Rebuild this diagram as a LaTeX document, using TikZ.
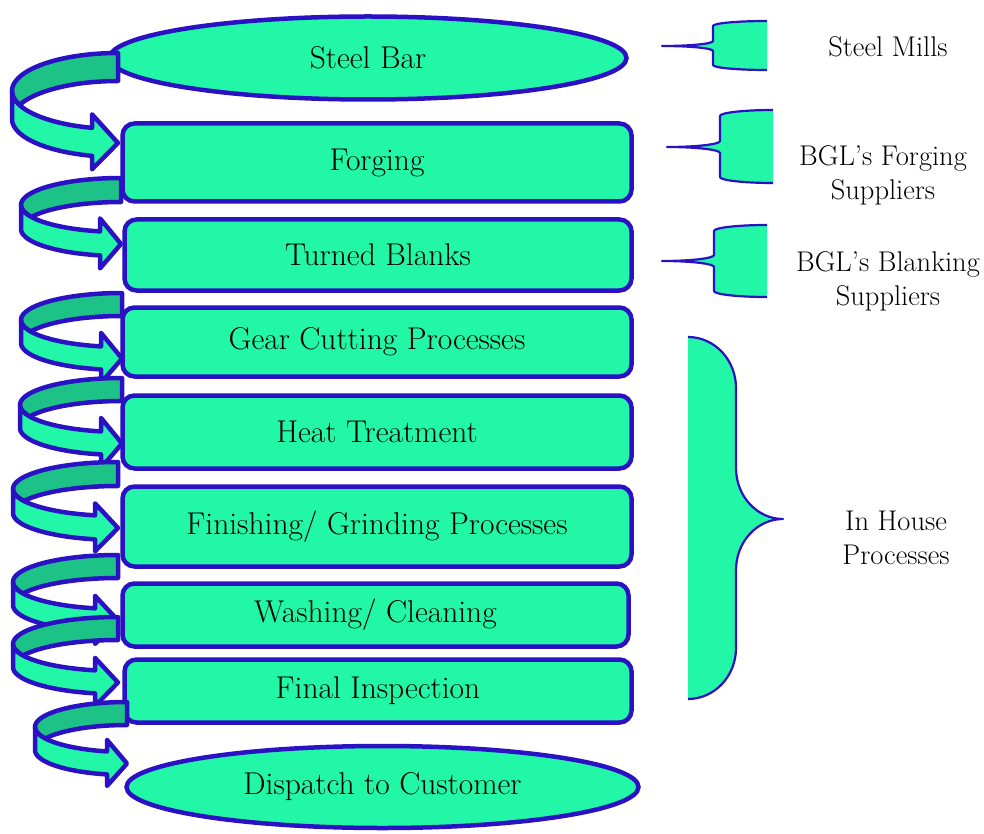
\documentclass[tikz,border=0pt]{standalone}
\usepackage{tikz}
\usetikzlibrary{shapes.geometric}
\definecolor{lg}{RGB}{33,247,166}
\definecolor{dg}{RGB}{29,194,135}
\definecolor{bb}{RGB}{43,17,196}
\newcommand\boxfont{\fontsize{31.5}{36}\selectfont}
\newcommand\sidefont{\fontsize{28.5}{34}\selectfont}
% curved ribbon arrow: right x, top y, x radius, y radius, thickness, head length, head width
\newcommand\ribarrow[7]{%
  \pgfmathsetmacro\raR{#1}%
  \pgfmathsetmacro\raT{#2}%
  \pgfmathsetmacro\raW{#3}%
  \pgfmathsetmacro\raH{#4}%
  \pgfmathsetmacro\raK{#5}%
  \pgfmathsetmacro\raA{#6}%
  \pgfmathsetmacro\raAW{#7}%
  \pgfmathsetmacro\raCU{\raT+\raH}%
  \pgfmathsetmacro\raCL{\raT+\raH+\raK}%
  \pgfmathsetmacro\raTB{acos(-\raA/\raW)}%
  \pgfmathsetmacro\raS{asin(\raK/(2*\raH))}%
  \pgfmathsetmacro\raTI{180-\raS}%
  \pgfmathsetmacro\raTJ{180+\raS}%
  \pgfmathsetmacro\raXB{\raR-\raA}%
  \pgfmathsetmacro\raYU{\raCU+\raH*sin(\raTB)}%
  \pgfmathsetmacro\raYL{\raYU+\raK}%
  \pgfmathsetmacro\raDH{(\raAW-\raK)/2}%
  \pgfmathsetmacro\raYT{\raT+2*\raH+\raK/2}%
  \pgfmathsetmacro\raYHa{\raYU-\raDH}%
  \pgfmathsetmacro\raYHb{\raYL+\raDH}%
  \filldraw[band, fill=dg] plot[domain=270:\raTI, samples=50] ({\raR+\raW*cos(\x)},{\raCU+\raH*sin(\x)})
     -- plot[domain=\raTJ:270, samples=40] ({\raR+\raW*cos(\x)},{\raCL+\raH*sin(\x)}) -- cycle;
  \filldraw[band, fill=lg] plot[domain=180:\raTB, samples=40] ({\raR+\raW*cos(\x)},{\raCU+\raH*sin(\x)})
     -- (\raXB,\raYHa) -- (\raR,\raYT) -- (\raXB,\raYHb) -- (\raXB,\raYL)
     -- plot[domain=\raTB:180, samples=40] ({\raR+\raW*cos(\x)},{\raCL+\raH*sin(\x)}) -- cycle;
}
% brace: open x, middle x, tip x, top y, mid y, bottom y, corner radius
\newcommand\bracket[7]{%
  \pgfmathsetmacro\bO{#1}%
  \pgfmathsetmacro\bM{#2}%
  \pgfmathsetmacro\bT{#3}%
  \pgfmathsetmacro\bYT{#4}%
  \pgfmathsetmacro\bYM{#5}%
  \pgfmathsetmacro\bYB{#6}%
  \pgfmathsetmacro\bR{#7}%
  \pgfmathsetmacro\bCa{\bO+0.5523*(\bM-\bO)}%
  \pgfmathsetmacro\bCb{\bT+0.5523*(\bM-\bT)}%
  \pgfmathsetmacro\bYa{\bYT+\bR}%
  \pgfmathsetmacro\bYaa{\bYT+\bR-0.5523*\bR}%
  \pgfmathsetmacro\bYb{\bYM-\bR}%
  \pgfmathsetmacro\bYbb{\bYM-\bR+0.5523*\bR}%
  \pgfmathsetmacro\bYc{\bYM+\bR}%
  \pgfmathsetmacro\bYcc{\bYM+\bR-0.5523*\bR}%
  \pgfmathsetmacro\bYd{\bYB-\bR}%
  \pgfmathsetmacro\bYdd{\bYB-\bR+0.5523*\bR}%
  \fill[lg] (\bO,\bYT) .. controls (\bCa,\bYT) and (\bM,\bYaa) .. (\bM,\bYa) -- (\bM,\bYb)
    .. controls (\bM,\bYbb) and (\bCb,\bYM) .. (\bT,\bYM)
    .. controls (\bCb,\bYM) and (\bM,\bYcc) .. (\bM,\bYc) -- (\bM,\bYd)
    .. controls (\bM,\bYdd) and (\bCa,\bYB) .. (\bO,\bYB) -- cycle;
  \draw[bline] (\bO,\bYT) .. controls (\bCa,\bYT) and (\bM,\bYaa) .. (\bM,\bYa) -- (\bM,\bYb)
    .. controls (\bM,\bYbb) and (\bCb,\bYM) .. (\bT,\bYM)
    .. controls (\bCb,\bYM) and (\bM,\bYcc) .. (\bM,\bYc) -- (\bM,\bYd)
    .. controls (\bM,\bYdd) and (\bCa,\bYB) .. (\bO,\bYB);
}
\begin{document}
\begin{tikzpicture}[x=1pt,y=-1pt,
  procbox/.style={draw=bb, fill=lg, line width=4.5pt, rounded corners=12pt, font=\boxfont, inner sep=0pt, text=black},
  ellbox/.style={ellipse, draw=bb, fill=lg, line width=4.5pt, font=\boxfont, inner sep=0pt, text=black},
  band/.style={draw=bb, line width=4.5pt, line join=round},
  bline/.style={draw=bb, line width=2.2pt, line join=round},
  sidetext/.style={font=\sidefont, align=center, text=black}]
\useasboundingbox (0,0) rectangle (984,834);
% process boxes
\node[ellbox, minimum width=517, minimum height=83] (bar) at (368,58) {Steel Bar};
\node[procbox, minimum width=509, minimum height=78] (forg) at (377,162.5) {Forging};
\node[procbox, minimum width=507, minimum height=71] (turn) at (378,255) {Turned Blanks};
\node[procbox, minimum width=509, minimum height=69] (gear) at (377,342) {Gear Cutting Processes};
\node[procbox, minimum width=509, minimum height=73] (heat) at (377,432) {Heat Treatment};
\node[procbox, minimum width=509, minimum height=80] (fini) at (377,526.5) {Finishing/ Grinding Processes};
\node[procbox, minimum width=506, minimum height=63] (wash) at (375.5,615) {Washing/ Cleaning};
\node[procbox, minimum width=507, minimum height=63] (insp) at (378,691) {Final Inspection};
\node[ellbox, minimum width=512, minimum height=82] (disp) at (382.5,787) {Dispatch to Customer};
% curved arrows
\ribarrow{118}{53}{106}{38}{28}{26}{55}
\ribarrow{121}{178}{100}{27}{24}{21}{50}
\ribarrow{122}{293}{101}{27}{23}{21}{50}
\ribarrow{122}{378}{102}{27}{23}{21}{50}
\ribarrow{118}{462}{105}{27}{24}{23}{48}
\ribarrow{118}{555}{105}{27}{23}{23}{48}
\ribarrow{118}{617}{105}{27}{23}{23}{48}
\ribarrow{127}{702}{92}{25}{23}{20}{46}
% braces
\bracket{767}{713}{662}{21}{46}{70}{5}
\bracket{773}{720}{667}{110}{147}{183}{6}
\bracket{767}{714}{662}{225}{261}{297}{6}
\bracket{688}{736}{783}{337}{519}{699}{51}
% side labels
\node[sidetext] (mills) at (888,47) {Steel Mills};
\node[sidetext] (fsup) at (883,175) {BGL's Forging\\Suppliers};
\node[sidetext] (bsup) at (888,281) {BGL's Blanking\\Suppliers};
\node[sidetext] (inh) at (896,538) {In House\\Processes};
\end{tikzpicture}
\end{document}
